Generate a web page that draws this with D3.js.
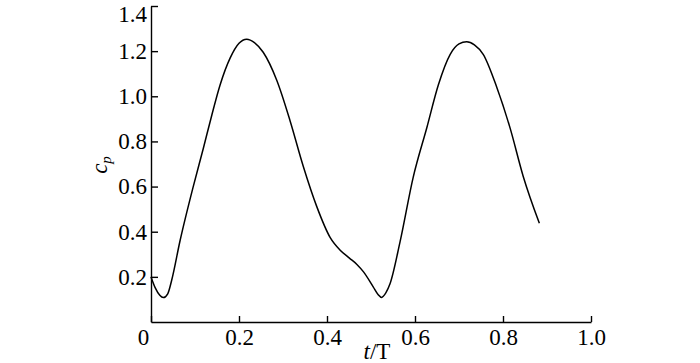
<!DOCTYPE html>
<html>
<head>
<meta charset="utf-8">
<script src="https://cdn.jsdelivr.net/npm/d3@7"></script>
<style>
  body { margin: 0; background: #fff; }
  svg text { font-family: "Liberation Serif", "Times New Roman", serif; fill: #000; }
</style>
</head>
<body>
<svg width="700" height="363"></svg>
<script>
    // t/T samples
    const tValues = [0.0, 0.01, 0.02, 0.028, 0.038, 0.047, 0.066, 0.096, 0.119, 0.138, 0.157, 0.18, 0.2, 0.2175,
        0.235, 0.255, 0.286, 0.316, 0.346, 0.377, 0.407, 0.43, 0.451, 0.468, 0.483, 0.505, 0.516, 0.524, 0.534,
        0.543, 0.566, 0.596, 0.627, 0.653, 0.68, 0.7, 0.7175, 0.735, 0.755, 0.786, 0.816, 0.846, 0.8825];
    const cpValues = [0.2, 0.15, 0.118, 0.108, 0.125, 0.185, 0.36, 0.6, 0.77, 0.915, 1.05, 1.17, 1.235, 1.253,
        1.238, 1.195, 1.07, 0.892, 0.69, 0.51, 0.375, 0.318, 0.283, 0.255, 0.222, 0.156, 0.122, 0.109, 0.13,
        0.168, 0.355, 0.642, 0.862, 1.05, 1.186, 1.232, 1.242, 1.228, 1.186, 1.039, 0.86, 0.645, 0.438];
    const xTicks = [0, 0.2, 0.4, 0.6, 0.8, 1.0];
    const yTicks = [0.2, 0.4, 0.6, 0.8, 1.0, 1.2, 1.4];

    const svg = d3.select('svg');
    const fontSize = 23;

    const x = d3.scaleLinear().domain([0, 1]).range([151, 591]);
    const y = d3.scaleLinear().domain([0, 1.4]).range([322, 6]);

    const fmt = d => d === 0 ? '0' : d3.format('.1f')(d);

    const xAxis = svg.append('g')
        .attr('transform', `translate(0, ${y(0)})`)
        .call(d3.axisBottom(x).tickValues(xTicks).tickSizeInner(-6).tickSizeOuter(0)
            .tickPadding(7).tickFormat(fmt));

    const yAxis = svg.append('g')
        .attr('transform', `translate(${x(0)}, 0)`)
        .call(d3.axisLeft(y).tickValues(yTicks).tickSizeInner(-7).tickSizeOuter(0)
            .tickPadding(4).tickFormat(fmt));

    [xAxis, yAxis].forEach(a => {
        a.selectAll('path, line').attr('stroke', '#000').attr('stroke-width', 1.4);
        a.selectAll('text').attr('font-size', fontSize)
            .attr('font-family', '"Liberation Serif", "Times New Roman", serif');
    });
    // the "0" label sits a little left of the origin
    xAxis.selectAll('.tick text').filter(d => d === 0).attr('dx', -8);
    // keep the top label inside the picture
    yAxis.selectAll('.tick text').filter(d => d === 1.4).attr('dy', '0.66em');

    const pts = tValues.map((t, i) => [t, cpValues[i]]);
    svg.append('path')
        .datum(pts)
        .attr('fill', 'none')
        .attr('stroke', '#000')
        .attr('stroke-width', 1.5)
        .attr('d', d3.line()
            .x(d => x(d[0]))
            .y(d => y(d[1]))
            .curve(d3.curveMonotoneX));

    // axis titles
    const xt = svg.append('text')
        .attr('x', 377)
        .attr('y', 359)
        .attr('text-anchor', 'middle')
        .attr('font-size', fontSize);
    xt.append('tspan').attr('font-style', 'italic').text('t');
    xt.append('tspan').text('/T');

    const yt = svg.append('text')
        .attr('transform', 'translate(107, 165) rotate(-90)')
        .attr('text-anchor', 'middle')
        .attr('font-size', fontSize)
        .attr('font-style', 'italic');
    yt.append('tspan').text('c');
    yt.append('tspan').attr('font-size', 15).attr('dy', 4).text('p');
</script>
</body>
</html>
